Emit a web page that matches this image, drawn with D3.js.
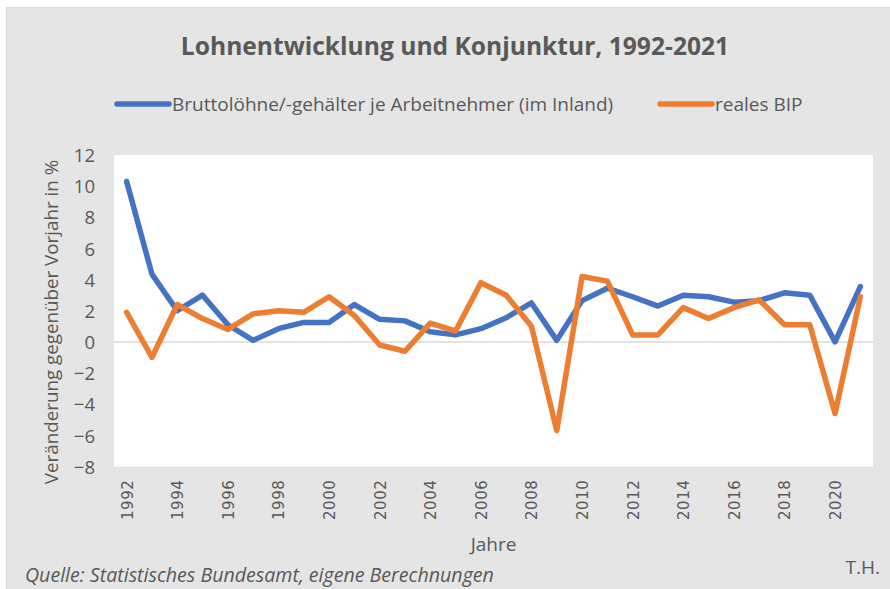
<!DOCTYPE html>
<html>
<head>
<meta charset="utf-8">
<script src="https://cdn.jsdelivr.net/npm/d3@7"></script>
<style>
  body { margin: 0; background: #fff; }
  text { font-family: "Open Sans", Lato, sans-serif; fill: #595959; }
</style>
</head>
<body>
<div class="chart"></div>
<script>
// data (change vs. previous year in %)
const years = [1992, 1993, 1994, 1995, 1996, 1997, 1998, 1999, 2000, 2001,
  2002, 2003, 2004, 2005, 2006, 2007, 2008, 2009, 2010, 2011,
  2012, 2013, 2014, 2015, 2016, 2017, 2018, 2019, 2020, 2021]
const wages = [10.3, 4.35, 2.0, 3.0, 1.1, 0.1, 0.85, 1.25, 1.25, 2.4,
  1.45, 1.35, 0.65, 0.45, 0.85, 1.55, 2.5, 0.1, 2.65, 3.45,
  2.9, 2.3, 3.0, 2.9, 2.55, 2.65, 3.15, 3.0, 0.0, 3.55]
const gdp = [1.9, -1.0, 2.4, 1.5, 0.8, 1.8, 2.0, 1.9, 2.9, 1.7,
  -0.2, -0.6, 1.2, 0.7, 3.8, 3.0, 1.0, -5.7, 4.2, 3.9,
  0.45, 0.45, 2.2, 1.5, 2.2, 2.7, 1.1, 1.1, -4.6, 2.9]
const yTicks = [-8, -6, -4, -2, 0, 2, 4, 6, 8, 10, 12]
const xTicks = [1992, 1994, 1996, 1998, 2000, 2002, 2004, 2006, 2008, 2010,
  2012, 2014, 2016, 2018, 2020]
const seriesNames = ["Bruttolöhne/-gehälter je Arbeitnehmer (im Inland)", "reales BIP"]
const seriesColors = ["#4472C4", "#ED7D31"]

class WageChart {
  constructor(width, height, plot) {
    this.width = width
    this.height = height
    this.plot = plot
    this.svg = this.createSvg()
    this.createScale()
    this.createAxes()
    this.draw()
    this.legend()
  }

  createSvg() {
    const svg = d3.select(".chart").append("svg")
      .attr("width", this.width)
      .attr("height", this.height)
    svg.append("rect")
      .attr("x", 6.5).attr("y", 7.5)
      .attr("width", this.width).attr("height", this.height)
      .attr("fill", "#e5e5e5")
      .attr("stroke", "#d9d9d9")
    svg.append("rect")
      .attr("x", this.plot.left).attr("y", this.plot.top)
      .attr("width", this.plot.right - this.plot.left)
      .attr("height", this.plot.bottom - this.plot.top)
      .attr("fill", "#fff")
    return svg
  }

  createScale() {
    this.scaleX = d3.scalePoint().domain(years)
      .range([this.plot.left, this.plot.right]).padding(0.5)
    this.scaleY = d3.scaleLinear().domain([-8, 12])
      .range([this.plot.bottom, this.plot.top])
  }

  createAxes() {
    var that = this
    // zero line
    this.svg.append("line")
      .attr("x1", this.plot.left).attr("x2", this.plot.right)
      .attr("y1", this.scaleY(0)).attr("y2", this.scaleY(0))
      .attr("stroke", "#d9d9d9").attr("stroke-width", 1.5)

    var axisY = this.svg.append("g")
      .attr("transform", "translate(" + (this.plot.left - 19) + ",0)")
    axisY.call(d3.axisLeft(this.scaleY).tickValues(yTicks).tickSize(0).tickPadding(0))
    axisY.select(".domain").remove()
    axisY.selectAll("text")
      .attr("font-family", null).attr("fill", null)
      .style("font-size", "18.5px")
      .attr("dy", "0.36em")

    var axisX = this.svg.append("g")
      .attr("transform", "translate(0," + this.plot.bottom + ")")
    axisX.call(d3.axisBottom(this.scaleX).tickValues(xTicks).tickSize(0))
    axisX.select(".domain").remove()
    axisX.selectAll("text")
      .attr("font-family", null).attr("fill", null)
      .style("font-family", "'DejaVu Sans', sans-serif")
      .style("font-size", "15px")
      .style("letter-spacing", "0.6px")
      .attr("text-anchor", "end")
      .attr("transform", "rotate(-90)")
      .attr("x", -13)
      .attr("y", 0)
      .attr("dy", "0.36em")

    this.svg.append("text")
      .text("Veränderung gegenüber Vorjahr in %")
      .attr("transform", "translate(58,322) rotate(-90)")
      .attr("text-anchor", "middle")
      .style("font-size", "18.8px")

    this.svg.append("text")
      .text("Jahre")
      .attr("x", (that.plot.left + that.plot.right) / 2)
      .attr("y", 551)
      .attr("text-anchor", "middle")
      .style("font-size", "19px")
  }

  draw() {
    var that = this
    var line = d3.line()
      .x((d, i) => that.scaleX(years[i]))
      .y(d => that.scaleY(d))
    ;[wages, gdp].forEach((s, i) => {
      that.svg.append("path")
        .datum(s)
        .attr("d", line)
        .attr("fill", "none")
        .attr("stroke", seriesColors[i])
        .attr("stroke-width", 5.5)
        .attr("stroke-linejoin", "round")
        .attr("stroke-linecap", "round")
    })

    this.svg.append("text")
      .text("Lohnentwicklung und Konjunktur, 1992-2021")
      .attr("x", 455).attr("y", 55)
      .attr("text-anchor", "middle")
      .style("font-size", "24.6px").style("font-weight", "bold")

    this.svg.append("text")
      .text("Quelle: Statistisches Bundesamt, eigene Berechnungen")
      .attr("x", 25).attr("y", 582)
      .style("font-size", "19.6px").style("font-style", "italic")
    this.svg.append("text")
      .text("T.H.")
      .attr("x", 880).attr("y", 574)
      .attr("text-anchor", "end")
      .style("font-size", "19px")
  }

  legend() {
    var pos = [{x: 117, w: 52}, {x: 660, w: 52}]
    var g = this.svg.append("g")
    pos.forEach((p, i) => {
      g.append("line")
        .attr("x1", p.x).attr("x2", p.x + p.w)
        .attr("y1", 104).attr("y2", 104)
        .attr("stroke", seriesColors[i]).attr("stroke-width", 5.5)
        .attr("stroke-linecap", "round")
      g.append("text")
        .text(seriesNames[i])
        .attr("x", p.x + p.w + 3).attr("y", 111)
        .style("font-size", "19px")
    })
  }
}

new WageChart(890, 589, {left: 114, right: 873, top: 155, bottom: 466.5})
</script>
</body>
</html>
